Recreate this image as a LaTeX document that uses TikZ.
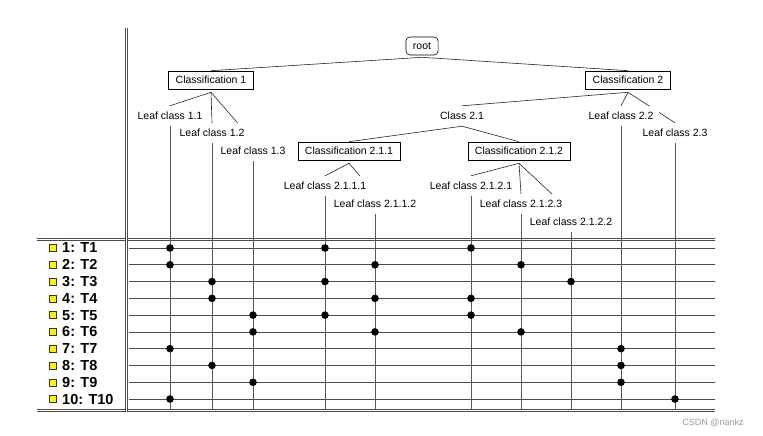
\documentclass[tikz,border=0pt]{standalone}
\usepackage{fontspec}
\setmainfont{Liberation Sans}
\usepackage{xcolor}
\usetikzlibrary{backgrounds}

\begin{document}
\begin{tikzpicture}[x=1pt, y=-1pt,
    every node/.style={font=\fontsize{10.5}{12}\selectfont},
    leaf/.style={fill=white, text height=8pt, text depth=2pt, inner xsep=6pt, inner ysep=5pt},
    classbox/.style={draw, line width=0.6pt, fill=white, text height=8pt, text depth=2pt, inner xsep=7pt, inner ysep=4pt},
    edge/.style={black!85, line width=0.6pt},
    behind/.style={shorten >=8pt},
    colline/.style={black!65, line width=0.9pt},
    rowline/.style={black!70, line width=0.8pt},
    frame/.style={black!70, line width=0.8pt, double, double distance=1.2pt},
    rowlabel/.style={font=\fontsize{14.5}{16}\selectfont\bfseries, anchor=west, inner sep=0pt},
    marker/.style={draw=black!80, fill=yellow, minimum size=7pt, inner sep=0pt}]
    \useasboundingbox (0,0) rectangle (763,436);

    % Tree of classes
    \node[classbox, rounded corners=4pt] (root) at (422,46) {root};
    \node[classbox] (cls1) at (211,80) {Classification 1};
    \node[classbox] (cls2) at (628,80) {Classification 2};

    \node[leaf] (leaf11) at (170,116) {Leaf class 1.1};
    \node[leaf] (leaf12) at (212,133) {Leaf class 1.2};
    \node[leaf] (leaf13) at (253,151) {Leaf class 1.3};

    \node[leaf] (c21) at (462,116) {Class 2.1};
    \node[leaf] (leaf22) at (621,116) {Leaf class 2.2};
    \node[leaf] (leaf23) at (675,133) {Leaf class 2.3};

    \node[classbox] (cls211) at (349,151) {Classification 2.1.1};
    \node[classbox] (cls212) at (519,151) {Classification 2.1.2};

    \node[leaf] (leaf2111) at (325,186) {Leaf class 2.1.1.1};
    \node[leaf] (leaf2112) at (375,204) {Leaf class 2.1.1.2};
    \node[leaf] (leaf2121) at (471,186) {Leaf class 2.1.2.1};
    \node[leaf] (leaf2123) at (521,204) {Leaf class 2.1.2.3};
    \node[leaf] (leaf2122) at (571,222) {Leaf class 2.1.2.2};

    % Tree edges, behind the labels
    \begin{scope}[on background layer]
        \draw[edge] ([yshift=-2pt]root.south) -- (cls1.north);
        \draw[edge] ([yshift=-2pt]root.south) -- (cls2.north);
        \draw[edge] ([yshift=-3pt]cls1.south) -- (leaf11.north);
        \draw[edge] ([yshift=-3pt]cls1.south) -- (leaf12.north);
        \draw[edge, behind] ([yshift=-3pt]cls1.south) -- (leaf13.north);
        \draw[edge] ([yshift=-3pt]cls2.south) -- (c21.north);
        \draw[edge] ([yshift=-3pt]cls2.south) -- (leaf22.north);
        \draw[edge] ([yshift=-3pt]cls2.south) -- (leaf23.north);
        \draw[edge] (c21.south) -- (cls211.north);
        \draw[edge] (c21.south) -- (cls212.north);
        \draw[edge] ([yshift=-3pt]cls211.south) -- (leaf2111.north);
        \draw[edge, behind] ([yshift=-3pt]cls211.south) -- (leaf2112.north);
        \draw[edge] ([yshift=-3pt]cls212.south) -- (leaf2121.north);
        \draw[edge] ([yshift=-3pt]cls212.south) -- (leaf2123.north);
        \draw[edge, behind] ([yshift=-3pt]cls212.south) -- (leaf2122.north);
    \end{scope}

    % Table frame
    \coordinate (bot) at (0,410);
    \coordinate (tabR) at (715,0);
    \draw[frame] (37,239.5) -- (715,239.5);
    \draw[frame] (37,410.5) -- (715,410.5);
    \draw[frame] (126.5,28) -- (126.5,412);

    % Rows
    \foreach \i in {1,...,10} {
        \pgfmathsetmacro{\ry}{248+(\i-1)*16.78}
        \coordinate (r\i) at (129,\ry);
        \draw[rowline] (r\i) -- (r\i -| tabR);
        \node[marker] (sq\i) at (53,\ry) {};
        \node[rowlabel] (t\i) at (62,\ry) {\i: T\i};
    }

    % Columns under the leaves
    \foreach \c in {leaf11,leaf12,leaf13,leaf2111,leaf2112,leaf2121,leaf2123,leaf2122,leaf22,leaf23}
        \draw[colline] (\c.south) -- (\c |- bot);

    % Memberships
    \foreach \c/\r in {leaf11/1, leaf2111/1, leaf2121/1,
                       leaf11/2, leaf2112/2, leaf2123/2,
                       leaf12/3, leaf2111/3, leaf2122/3,
                       leaf12/4, leaf2112/4, leaf2121/4,
                       leaf13/5, leaf2111/5, leaf2121/5,
                       leaf13/6, leaf2112/6, leaf2123/6,
                       leaf11/7, leaf22/7, leaf12/8, leaf22/8,
                       leaf13/9, leaf22/9, leaf11/10, leaf23/10}
        \fill (\c |- r\r) circle (3.8pt);

    \node[text=black!40, font=\fontsize{9}{10}\selectfont] (mark) at (713,423) {CSDN @nankz};
\end{tikzpicture}
\end{document}
